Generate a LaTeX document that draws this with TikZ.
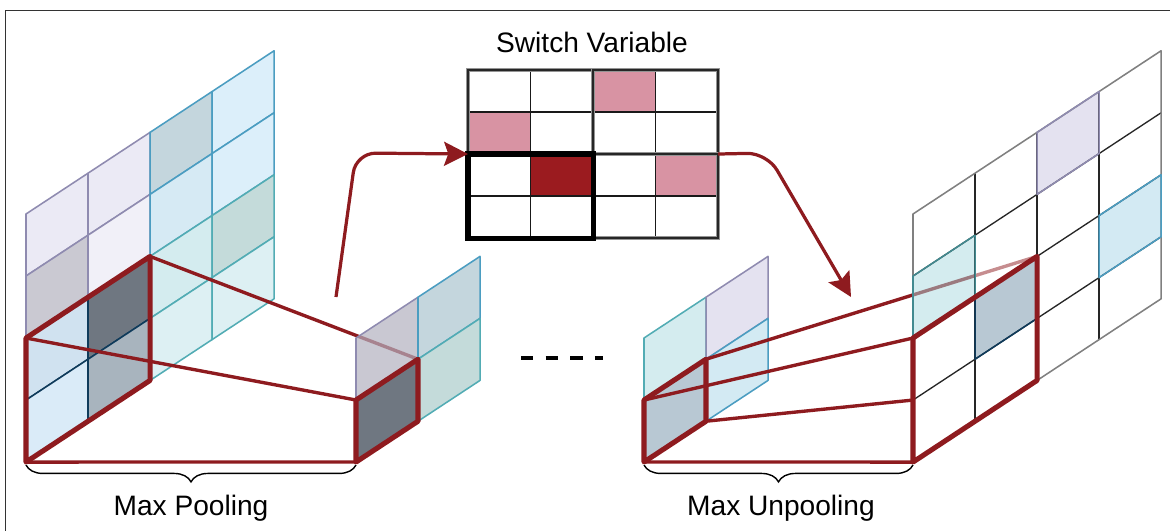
\documentclass[tikz,border=0pt]{standalone}
\usepackage{fontspec}
\setmainfont{Liberation Sans}
\usetikzlibrary{arrows.meta,decorations.pathreplacing}

\definecolor{poolred}{HTML}{8E1B1F}
\definecolor{lavA}{HTML}{EBEAF5}
\definecolor{lavB}{HTML}{F1F0F8}
\definecolor{lavG}{HTML}{CAC9D2}
\definecolor{lavC}{HTML}{E4E2F0}
\definecolor{lavT}{HTML}{B2B0BF}
\definecolor{blueG}{HTML}{C4D6DD}
\definecolor{skyA}{HTML}{DCEFFA}
\definecolor{skyB}{HTML}{D6EAF4}
\definecolor{skyC}{HTML}{D3EAF3}
\definecolor{aquaA}{HTML}{D4ECEF}
\definecolor{aquaG}{HTML}{C4DBDA}
\definecolor{aquaB}{HTML}{DDF0F3}
\definecolor{aquaT}{HTML}{A9D9DF}
\definecolor{iceA}{HTML}{D0E2F0}
\definecolor{iceB}{HTML}{DAEBF8}
\definecolor{slateD}{HTML}{6F7781}
\definecolor{slateM}{HTML}{A8B4BE}
\definecolor{slateL}{HTML}{B8C8D3}
\definecolor{lavline}{HTML}{8F8BB0}
\definecolor{blueline}{HTML}{4B9DC1}
\definecolor{tealline}{HTML}{52ACB4}
\definecolor{navyline}{HTML}{0F3B5B}
\definecolor{pinkcell}{HTML}{D893A3}
\definecolor{maxcell}{HTML}{9B1B1F}
\definecolor{framegray}{HTML}{333333}

% one skewed cell of a feature map: [extra options]{column}{row}{fill}{stroke}
\newcommand\skcell[5][]{\filldraw[cellline,fill=#4,draw=#5,#1] (#2,#3) -- ++(1,0) -- ++(0,1) -- ++(-1,0) -- cycle;}
% fill only
\newcommand\skfill[4][]{\fill[fill=#4,#1] (#2,#3) -- ++(1,0) -- ++(0,1) -- ++(-1,0) -- cycle;}
% outline only
\newcommand\skedge[3]{\draw[cellline,draw=#3] (#1,#2) -- ++(1,0) -- ++(0,1) -- ++(-1,0) -- cycle;}

\begin{document}
\begin{tikzpicture}[x=0.025cm, y=-0.025cm,
  skewgrid/.style 2 args={shift={(#1,#2)}, x={(1.55cm,1.02cm)}, y={(0cm,-1.55cm)}},
  cellline/.style={line width=1.1pt, line join=round},
  innerline/.style={line width=0.95pt, draw=black!85},
  outerline/.style={line width=1.1pt, draw=black!50, line join=round},
  redbox/.style={draw=poolred, line width=3.6pt, line join=round},
  redlink/.style={draw=poolred, line width=2.4pt},
  flowarrow/.style={draw=poolred, line width=2.3pt, rounded corners=14pt,
    -{Stealth[length=17pt,width=17pt,inset=3pt]}},
  swthin/.style={line width=1pt, draw=black!90},
  swgrayA/.style={line width=3pt, draw=black!42},
  swgrayB/.style={line width=1.3pt, draw=black!85},
  swblack/.style={line width=3.6pt, draw=black},
  bracepath/.style={decorate, decoration={brace, mirror, amplitude=12pt}, line width=1pt},
  captext/.style={font=\fontsize{20}{24}\selectfont, inner sep=0pt},
  framestroke/.style={draw=framegray, line width=0.8pt}
]
\useasboundingbox (0,0) rectangle (1170,531);

% outer frame (top and left sides)
\coordinate (frame-bl) at (5.3,531);
\coordinate (frame-tl) at (5.3,10.5);
\coordinate (frame-tr) at (1170,10.5);
\draw[framestroke] (frame-bl) -- (frame-tl) -- (frame-tr);

% ---------------- input feature map (4x4) ----------------
\begin{scope}[skewgrid={26}{214}]
  \skcell{0}{0}{lavA}{lavline}
  \skcell{1}{0}{lavA}{lavline}
  \skcell{0}{1}{lavG}{lavline}
  \skcell{1}{1}{lavB}{lavline}
  \skcell{2}{0}{blueG}{blueline}
  \skcell{3}{0}{skyA}{blueline}
  \skcell{2}{1}{skyB}{blueline}
  \skcell{3}{1}{skyA}{blueline}
  \skcell{2}{2}{aquaA}{tealline}
  \skcell{3}{2}{aquaG}{tealline}
  \skcell{2}{3}{aquaB}{tealline}
  \skcell{3}{3}{aquaB}{tealline}
  \skcell{0}{2}{iceA}{navyline}
  \skcell{1}{2}{slateD}{navyline}
  \skcell{0}{3}{iceB}{navyline}
  \skcell{1}{3}{slateM}{navyline}
  \coordinate (pin-tl) at (0,2);
  \coordinate (pin-tr) at (2,2);
  \coordinate (pin-br) at (2,4);
  \coordinate (pin-bl) at (0,4);
\end{scope}

% ---------------- pooled map (2x2) ----------------
\begin{scope}[skewgrid={356}{338}]
  \coordinate (pout-tl) at (0,1);
  \coordinate (pout-tr) at (1,1);
  \coordinate (pout-br) at (1,2);
  \coordinate (pout-bl) at (0,2);
\end{scope}

\draw[redlink] (pin-tl) -- (pout-tl);
\draw[redlink] (pin-tr) -- (pout-tr);
\draw[redlink] (pin-bl) -- (pout-bl);

\begin{scope}[skewgrid={356}{338}]
  \skcell[fill opacity=0.7]{0}{0}{lavT}{lavline}
  \skcell{1}{0}{blueG}{blueline}
  \skcell{1}{1}{aquaG}{tealline}
  \skcell{0}{1}{slateD}{navyline}
\end{scope}

\draw[redbox] (pin-tl) -- (pin-tr) -- (pin-br) -- (pin-bl) -- cycle;
\draw[redbox] (pout-tl) -- (pout-tr) -- (pout-br) -- (pout-bl) -- cycle;

% ---------------- map before unpooling (2x2) ----------------
\begin{scope}[skewgrid={644}{338}]
  \skcell{0}{0}{aquaA}{tealline}
  \skcell{1}{0}{lavC}{lavline}
  \skcell{1}{1}{skyC}{blueline}
  \skcell{0}{1}{slateL}{navyline}
  \coordinate (uin-tl) at (0,1);
  \coordinate (uin-tr) at (1,1);
  \coordinate (uin-br) at (1,2);
  \coordinate (uin-bl) at (0,2);
\end{scope}

% ---------------- unpooled map (4x4) ----------------
\begin{scope}[skewgrid={913}{214}]
  \coordinate (uout-tl) at (0,2);
  \coordinate (uout-tr) at (2,2);
  \coordinate (uout-ml) at (0,3);
  \coordinate (uout-br) at (2,4);
  \coordinate (uout-bl) at (0,4);
\end{scope}

\draw[redlink] (uin-tl) -- (uout-tl);
\draw[redlink] (uin-tr) -- (uout-tr);
\draw[redlink] (uin-br) -- (uout-ml);
\draw[redlink] (uin-bl) -- (uout-bl);

\begin{scope}[skewgrid={913}{214}]
  \foreach \u/\v in {0/0,1/0,3/0,2/1,3/1,0/2,2/2,0/3,1/3,2/3,3/3}
    {\skfill{\u}{\v}{white}}
  \skfill{2}{0}{lavC}
  \skfill{3}{2}{skyC}
  \skfill{1}{2}{slateL}
  \skfill[fill opacity=0.5]{0}{1}{aquaT}
  \skfill[fill opacity=0.5]{1}{1}{white}
  \foreach \u in {1,2,3} {\draw[innerline] (\u,0) -- (\u,4);}
  \foreach \v in {1,2,3} {\draw[innerline] (0,\v) -- (4,\v);}
  \draw[outerline] (0,0) -- (4,0) -- (4,4) -- (0,4) -- cycle;
  \skedge{2}{0}{lavline}
  \skedge{3}{2}{blueline}
  \skedge{0}{1}{tealline!80!black}
  \skedge{1}{2}{navyline}
\end{scope}

\draw[redbox] (uin-tl) -- (uin-tr) -- (uin-br) -- (uin-bl) -- cycle;
\draw[redbox] (uout-tl) -- (uout-tr) -- (uout-br) -- (uout-bl) -- cycle;

% ---------------- switch variables ----------------
\node[captext, anchor=base] (sw-title) at (592,52.5) {Switch Variable};
\begin{scope}[shift={(468,70)}, x={(1.5625cm,0cm)}, y={(0cm,-1.05cm)}]
  \fill[pinkcell] (2,0) rectangle (3,1);
  \fill[pinkcell] (0,1) rectangle (1,2);
  \fill[pinkcell] (3,2) rectangle (4,3);
  \fill[maxcell] (1,2) rectangle (2,3);
  \foreach \k in {1,3} {
    \draw[swthin] (\k,0) -- (\k,4);
    \draw[swthin] (0,\k) -- (4,\k);
  }
  \foreach \a/\b in {0/0,2/0,2/2} {
    \draw[swgrayA] (\a,\b) rectangle ++(2,2);
    \draw[swgrayB] (\a,\b) rectangle ++(2,2);
  }
  \draw[swblack] (0,2) rectangle (2,4);
  \coordinate (sw-in) at (0,2);
  \coordinate (sw-out) at (4,2);
\end{scope}

% flow arrows
\coordinate (up-start) at (336,297);
\coordinate (up-bend) at (356,153);
\draw[flowarrow] (up-start) -- (up-bend) -- (sw-in);
\coordinate (down-bend) at (767,153);
\coordinate (down-end) at (851,297);
\draw[flowarrow] (sw-out) -- (down-bend) -- (down-end);

% stages in between
\coordinate (gap-l) at (521,358);
\coordinate (gap-r) at (603,358);
\draw[line width=2.9pt, dash pattern=on 8.75pt off 8.75pt] (gap-l) -- (gap-r);

% braces and captions
\coordinate (pool-l) at (26,465);
\coordinate (pool-r) at (356,465);
\draw[bracepath] (pool-l) -- (pool-r);
\node[captext, anchor=base] (pool-cap) at (191,515) {Max Pooling};
\coordinate (unpool-l) at (644,465);
\coordinate (unpool-r) at (913,465);
\draw[bracepath] (unpool-l) -- (unpool-r);
\node[captext, anchor=base] (unpool-cap) at (781,515) {Max Unpooling};
\end{tikzpicture}
\end{document}
